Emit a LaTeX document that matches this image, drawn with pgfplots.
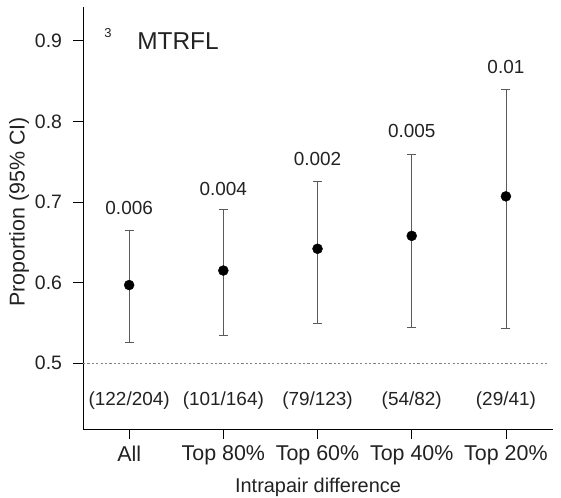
\documentclass[border=0pt]{standalone}
\usepackage{fontspec}
\setmainfont{Liberation Sans}
\usepackage{pgfplots}
\pgfplotsset{compat=1.18}
\definecolor{txt}{HTML}{222222}
\definecolor{bar}{HTML}{5A5A5A}
\begin{document}
\begin{tikzpicture}
\begin{axis}[
  scale only axis, width=470bp, height=422bp,
  xmin=-0.49, xmax=4.5, ymin=0.4185, ymax=0.9418,
  axis x line*=bottom, axis y line*=left,
  axis line style={-, black, line width=0.7pt},
  tick align=outside, major tick length=9.5bp,
  tick style={black, line width=0.7pt},
  xtick={0,1,2,3,4},
  xticklabels={All,Top 80\%,Top 60\%,Top 40\%,Top 20\%},
  ytick={0.5,0.6,0.7,0.8,0.9},
  /pgf/number format/assume math mode=true,
  yticklabel style={/pgf/number format/fixed,/pgf/number format/precision=1,/pgf/number format/fixed zerofill},
  yticklabel style={font=\fontsize{19.5}{22}\selectfont, text=txt, xshift=-8bp},
  xticklabel style={font=\fontsize{21.5}{24}\selectfont, text=txt, yshift=-4bp},
  xlabel={Intrapair difference},
  ylabel={Proportion (95\% CI)},
  xlabel style={font=\fontsize{20}{22}\selectfont, text=txt, at={(axis description cs:0.5,-0.1374)}, anchor=center},
  ylabel style={font=\fontsize{21.5}{24}\selectfont, text=txt, at={(axis description cs:-0.1362,0.5142)}, anchor=center},
  clip=false,
]
\coordinate (O) at (rel axis cs:0,0);
\addplot[gray, line width=0.7pt, dash pattern=on 2.2bp off 2.2bp] coordinates {(-0.49,0.5) (4.45,0.5)};
\addplot[only marks, mark=*, mark size=5bp, black,
  error bars/.cd, y dir=both, y explicit,
  error bar style={bar, line width=0.8pt},
  error mark options={rotate=90, mark size=4.5bp, bar, line width=0.8pt}]
  coordinates {
  (0,0.597) += (0,0.068) -= (0,0.071)
  (1,0.615) += (0,0.076) -= (0,0.080)
  (2,0.642) += (0,0.084) -= (0,0.092)
  (3,0.658) += (0,0.101) -= (0,0.113)
  (4,0.707) += (0,0.132) -= (0,0.164)
  };
\begin{scope}[every node/.style={font=\fontsize{19}{22}\selectfont, text=txt}]
\node at (axis cs:0,0.692) {0.006};
\node at (axis cs:1,0.716) {0.004};
\node at (axis cs:2,0.753) {0.002};
\node at (axis cs:3,0.788) {0.005};
\node at (axis cs:4,0.867) {0.01};
\node at (axis cs:0,0.4537) {(122/204)};
\node at (axis cs:1,0.4537) {(101/164)};
\node at (axis cs:2,0.4537) {(79/123)};
\node at (axis cs:3,0.4537) {(54/82)};
\node at (axis cs:4,0.4537) {(29/41)};
\node[anchor=west] at (axis cs:0.05,0.9) {\fontsize{24.5}{28}\selectfont MTRFL};
\node at (axis cs:-0.226,0.909) {\fontsize{13}{14}\selectfont 3};
\end{scope}
\end{axis}
\pgfresetboundingbox
\path (O) ++(-83bp,-69bp) rectangle ++(561bp,498bp);
\end{tikzpicture}
\end{document}
